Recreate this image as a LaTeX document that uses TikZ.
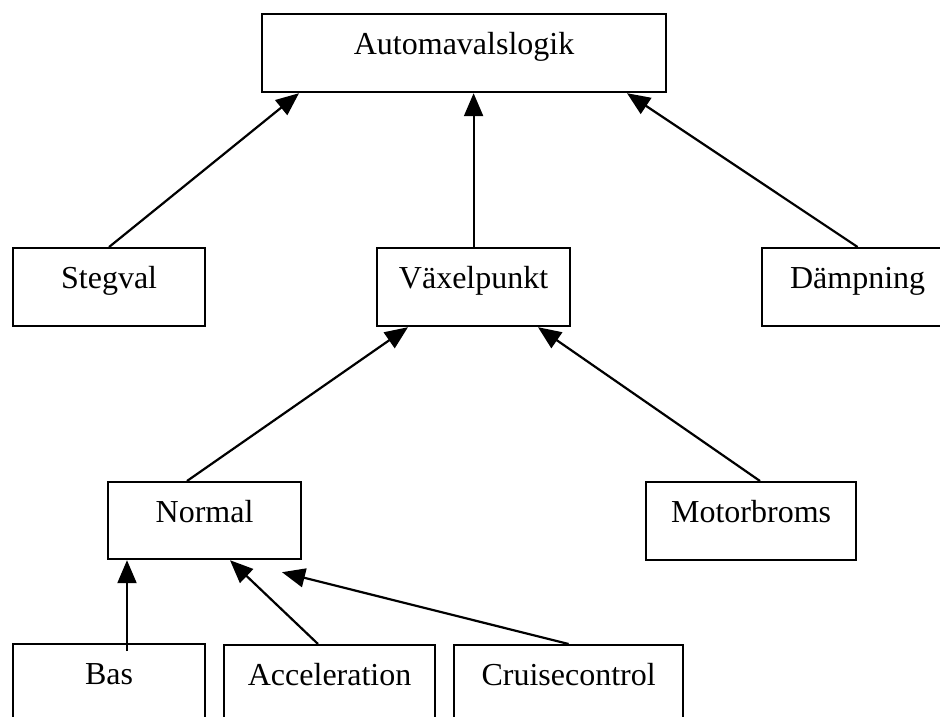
\documentclass[tikz,border=0pt]{standalone}
\usepackage{fontspec}
\setmainfont{Liberation Serif}
\usetikzlibrary{arrows.meta}
\begin{document}
\begin{tikzpicture}[x=1pt,y=-1pt,
  box/.style={draw, line width=2.2pt, rectangle, anchor=north west, inner sep=0pt,
    align=center, text height=40pt, font=\fontsize{32}{38}\selectfont},
  arr/.style={line width=2.2pt, -{Triangle[length=23pt,width=19pt]}}]
\clip (0,0) rectangle (940,717);
\fill[white] (0,0) rectangle (940,717);

% top level
\node[box, text width=404pt, text depth=38pt] (auto) at (261,13) {Automavalslogik};

% second level
\node[box, text width=192pt, text depth=38pt] (stegval) at (12,247) {Stegval};
\node[box, text width=193pt, text depth=38pt] (vaxel) at (376,247) {Växelpunkt};
\node[box, text width=191pt, text depth=38pt] (dampning) at (761,247) {Dämpning};

% third level
\node[box, text width=193pt, text depth=37pt] (normal) at (107,481) {Normal};
\node[box, text width=210pt, text depth=38pt] (motor) at (645,481) {Motorbroms};

% fourth level
\node[box, text width=192pt, text depth=60pt] (bas) at (12,643) {Bas};
\node[box, text width=211pt, text depth=60pt] (acc) at (223,644) {Acceleration};
\node[box, text width=229pt, text depth=60pt] (cruise) at (453,644) {Cruisecontrol};

% connectors
\draw[arr] (stegval.north) -- ([xshift=38pt]auto.south west);
\draw[arr] (vaxel.north) -- (vaxel.north |- auto.south);
\draw[arr] (dampning.north) -- ([xshift=366pt]auto.south west);
\draw[arr] ([xshift=80pt]normal.north west) -- ([xshift=32pt]vaxel.south west);
\draw[arr] ([xshift=115pt]motor.north west) -- ([xshift=162pt]vaxel.south west);
\draw[arr] ([xshift=115pt,yshift=-8pt]bas.north west) -- ([xshift=20pt]normal.south west);
\draw[arr] ([xshift=95pt]acc.north west) -- ([xshift=123pt]normal.south west);
\draw[arr] (cruise.north) -- ([xshift=175pt,yshift=-12pt]normal.south west);
\end{tikzpicture}
\end{document}
